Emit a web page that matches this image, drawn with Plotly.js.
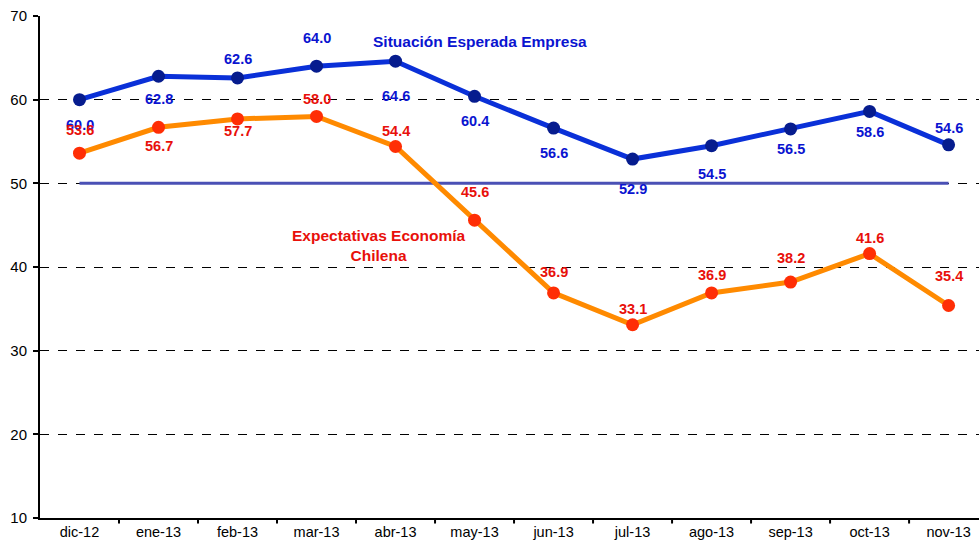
<!DOCTYPE html>
<html>
<head>
<meta charset="utf-8">
<script src="https://cdn.plot.ly/plotly-3.0.1.min.js"></script>
<style>html,body{margin:0;padding:0;background:#fff;}#chart{width:979px;height:549px;}</style>
</head>
<body>
<div id="chart"></div>
<script>
const categories = ['dic-12','ene-13','feb-13','mar-13','abr-13','may-13','jun-13','jul-13','ago-13','sep-13','oct-13','nov-13'];
const empresa = [60.0, 62.8, 62.6, 64.0, 64.6, 60.4, 56.6, 52.9, 54.5, 56.5, 58.6, 54.6];
const economia = [53.6, 56.7, 57.7, 58.0, 54.4, 45.6, 36.9, 33.1, 36.9, 38.2, 41.6, 35.4];
const neutral = [50, 50, 50, 50, 50, 50, 50, 50, 50, 50, 50, 50];
const yTicks = [10, 20, 30, 40, 50, 60, 70];

// label offsets in pixels (style, positive = down)
const empresaOffsets = [25, 23, -19, -28, 35, 25, 25, 30, 28, 20, 21, -17];
const economiaOffsets = [-23, 19, 12, -17, -16, -28, -21, -16, -18, -24, -16, -29];

const idx = categories.map((c, i) => i);
const blueText = '#0a14d0';
const redText = '#e8100a';
const FONT = 'Liberation Sans, Arial, sans-serif';

const traces = [
  {x: idx, y: neutral, type: 'scatter', mode: 'lines',
   line: {color: '#4a50b5', width: 3}, hoverinfo: 'skip', showlegend: false},
  {x: idx, y: economia, type: 'scatter', mode: 'lines+markers', name: 'Expectativas Economía Chilena',
   line: {color: '#ff8a00', width: 5},
   marker: {color: '#ff2e05', size: 13, line: {width: 0}}, showlegend: false},
  {x: idx, y: empresa, type: 'scatter', mode: 'lines+markers', name: 'Situación Esperada Empresa',
   line: {color: '#0a30d8', width: 5},
   marker: {color: '#061c8e', size: 13, line: {width: 0}}, showlegend: false}
];

const annotations = [];
empresa.forEach((v, i) => annotations.push({
  x: i, y: v, xref: 'x', yref: 'y', text: '<b>' + v.toFixed(1) + '</b>', showarrow: false,
  xanchor: 'center', yanchor: 'middle',
  yshift: -empresaOffsets[i], font: {family: FONT, size: 14.5, color: blueText}
}));
economia.forEach((v, i) => annotations.push({
  x: i, y: v, xref: 'x', yref: 'y', text: '<b>' + v.toFixed(1) + '</b>', showarrow: false,
  xanchor: 'center', yanchor: 'middle',
  yshift: -economiaOffsets[i], font: {family: FONT, size: 14.5, color: redText}
}));
// series titles, placed by pixel position then converted to paper coords
const L = 40, T = 16, W = 979 - 40, H = 518 - 16;
[
  {px: 480, py: 42, text: '<b>Situación Esperada Empresa</b>', color: blueText},
  {px: 379, py: 245, text: '<b>Expectativas Economía<br>Chilena</b>', color: redText}
].forEach(t => annotations.push({
  x: (t.px - L) / W, y: 1 - (t.py - T) / H, xref: 'paper', yref: 'paper',
  xanchor: 'center', yanchor: 'middle', text: t.text, showarrow: false,
  font: {family: FONT, size: 15.5, color: t.color}
}));

const layout = {
  width: 979, height: 549,
  margin: {l: 40, r: 0, t: 16, b: 31},
  paper_bgcolor: '#fff', plot_bgcolor: '#fff',
  font: {family: FONT, size: 14, color: '#000'},
  xaxis: {
    range: [-0.5, 11.385], tickmode: 'array', tickvals: idx, ticktext: categories,
    showgrid: false, zeroline: false, showline: true, linecolor: '#000', linewidth: 2,
    ticks: '', fixedrange: true, tickfont: {size: 14.5}
  },
  yaxis: {
    range: [10, 70], tickmode: 'array', tickvals: yTicks, ticktext: yTicks.map(String),
    showgrid: true, gridcolor: '#000', griddash: 'dash', gridwidth: 1,
    zeroline: false, showline: true, linecolor: '#000', linewidth: 2,
    ticks: 'outside', ticklen: 5, tickwidth: 2, tickcolor: '#000', ticklabelstandoff: 3,
    tickfont: {size: 15}, fixedrange: true
  },
  shapes: categories.slice(1).map((c, i) => ({
    type: 'line', xref: 'x', yref: 'paper', x0: i + 0.5, x1: i + 0.5, y0: 0, y1: -0.011,
    line: {color: '#000', width: 2}
  })),
  annotations: annotations
};

Plotly.newPlot('chart', traces, layout, {displayModeBar: false, staticPlot: true});
</script>
</body>
</html>
